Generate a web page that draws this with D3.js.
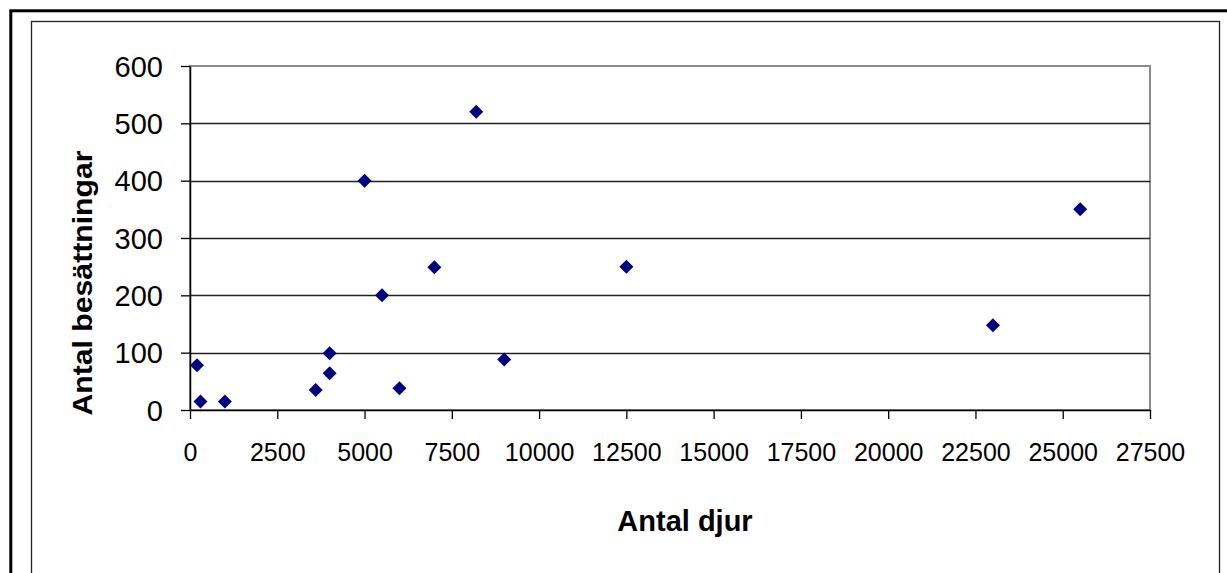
<!DOCTYPE html>
<html>
<head>
<meta charset="utf-8">
<script src="https://cdn.jsdelivr.net/npm/d3@7"></script>
<style>
    body { margin: 0; background: #fff; }
    svg { display: block; }
    .tick text { font-family: "Liberation Sans", Arial, sans-serif; fill: #000; }
    .title { font-family: "Liberation Sans", Arial, sans-serif; font-weight: bold; fill: #000; }
</style>
</head>
<body>
<div id="chart"></div>
<script>
// data
const antalDjur = [200, 300, 1000, 3600, 4000, 4000, 5000, 5500, 6000, 7000, 8200, 9000, 12500, 23000, 25500];
const antalBesattningar = [78, 15, 15, 35, 99, 64, 400, 200, 38, 249, 520, 88, 250, 148, 350];
const xTicks = [0, 2500, 5000, 7500, 10000, 12500, 15000, 17500, 20000, 22500, 25000, 27500];
const yTicks = [0, 100, 200, 300, 400, 500, 600];
const xTitle = "Antal djur";
const yTitle = "Antal besättningar";

const W = 1227, H = 573;
const plot = {left: 190, right: 1150, top: 66, bottom: 410};

const svg = d3.select("#chart").append("svg")
    .attr("width", W)
    .attr("height", H);

svg.append("rect").attr("width", W).attr("height", H).attr("fill", "#fff");

// frames
svg.append("rect")
    .attr("x", 10.8).attr("y", 10.8)
    .attr("width", W + 20).attr("height", H + 20)
    .attr("fill", "none").attr("stroke", "#000").attr("stroke-width", 3);

svg.append("rect")
    .attr("x", 31.5).attr("y", 21.5)
    .attr("width", 1188).attr("height", H + 20)
    .attr("fill", "none").attr("stroke", "#222").attr("stroke-width", 1.3);

const x = d3.scaleLinear().domain([0, 27500]).range([plot.left, plot.right]);
const y = d3.scaleLinear().domain([0, 600]).range([plot.bottom, plot.top]);

// plot area border
svg.append("rect")
    .attr("x", plot.left).attr("y", plot.top)
    .attr("width", plot.right - plot.left).attr("height", plot.bottom - plot.top)
    .attr("fill", "none").attr("stroke", "#8a8a8a").attr("stroke-width", 2);

// gridlines
svg.append("g")
    .selectAll("line")
    .data(yTicks.filter(d => d > 0 && d < 600))
    .enter().append("line")
    .attr("x1", plot.left).attr("x2", plot.right)
    .attr("y1", d => Math.round(y(d)) + 0.5)
    .attr("y2", d => Math.round(y(d)) + 0.5)
    .attr("stroke", "#222")
    .attr("stroke-width", 1.3);

// axes
const yAxis = svg.append("g")
    .attr("transform", `translate(${plot.left},0)`)
    .call(d3.axisLeft(y).tickValues(yTicks).tickSize(9).tickPadding(18).tickSizeOuter(0));
yAxis.selectAll("text").style("font-size", "29px").attr("dy", "0.35em");

const xAxis = svg.append("g")
    .attr("transform", `translate(0,${plot.bottom})`)
    .call(d3.axisBottom(x).tickValues(xTicks).tickFormat(d3.format("d"))
        .tickSize(9).tickPadding(24).tickSizeOuter(0));
xAxis.selectAll("text").style("font-size", "25px");

svg.selectAll(".domain").attr("stroke", "#000").attr("stroke-width", 1.5);
svg.selectAll(".tick line").attr("stroke", "#000").attr("stroke-width", 1.3);

// points
const diamond = d3.symbol().type(d3.symbolSquare).size(98);
svg.append("g")
    .selectAll("path")
    .data(antalDjur.map((d, i) => ({x: d, y: antalBesattningar[i]})))
    .enter().append("path")
    .attr("d", diamond)
    .attr("transform", d => `translate(${x(d.x)},${y(d.y)}) rotate(45)`)
    .attr("fill", "#000080");

// titles
svg.append("text")
    .attr("class", "title")
    .attr("x", 685).attr("y", 531)
    .attr("text-anchor", "middle")
    .style("font-size", "29px")
    .text(xTitle);

svg.append("text")
    .attr("class", "title")
    .attr("transform", "translate(92,283) rotate(-90)")
    .attr("text-anchor", "middle")
    .attr("textLength", 265)
    .attr("lengthAdjust", "spacingAndGlyphs")
    .style("font-size", "27px")
    .text(yTitle);
</script>
</body>
</html>
